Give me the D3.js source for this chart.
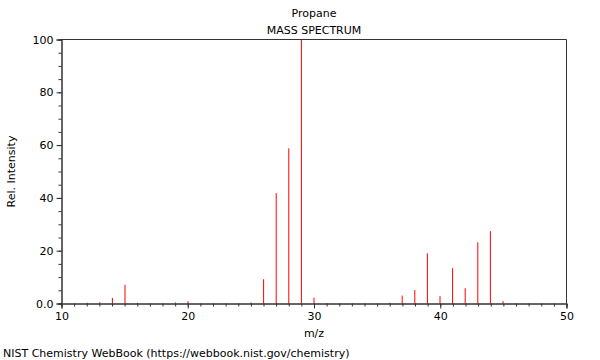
<!DOCTYPE html>
<html><head><meta charset="utf-8">
<script src="https://cdn.jsdelivr.net/npm/d3@7"></script>
<style>body{margin:0;background:#fff}svg{display:block}text{font-family:"DejaVu Sans",sans-serif}</style>
</head><body>
<svg id="c" width="600" height="360"></svg>
<script>
const mz =        [12, 13, 14, 15, 16, 19, 20, 25, 26, 27, 28, 29, 30, 31, 36, 37, 38, 39, 40, 41, 42, 43, 44, 45];
const intensity = [0.3,0.5,2.1,7.1,0.3,0.4,0.9,0.4,9.2,41.8,58.8,100,2.2,0.1,0.3,3.0,5.1,19.0,2.8,13.4,5.8,23.2,27.4,0.9];
const xMajor = [10, 20, 30, 40, 50];
const yMajor = [0, 20, 40, 60, 80, 100];
const yMajorLabels = ["0.0", "20", "40", "60", "80", "100"];
const title = "Propane", subtitle = "MASS SPECTRUM";
const xTitle = "m/z", yTitle = "Rel. Intensity";
const footer = "NIST Chemistry WebBook (https://webbook.nist.gov/chemistry)";

const svg = d3.select("#c");
const L = 61.5, R = 566.5, T = 39.5, B = 303.5;
const x = d3.scaleLinear().domain([10, 50]).range([L, R]);
const xp = d3.scaleLinear().domain([10, 50]).range([62, 566]);
const y = d3.scaleLinear().domain([0, 100]).range([B, T]);
const axisColor = "#333";

// peaks
svg.append("g").selectAll("line").data(mz).join("line")
  .attr("x1", d => xp(d)).attr("x2", d => xp(d))
  .attr("y1", y(0)).attr("y2", (d, i) => y(intensity[i]))
  .attr("stroke", "#ff0000").attr("stroke-width", 1);

// frame top/right
svg.append("path").attr("d", `M${L},${T}H${R}V${B}`).attr("fill", "none").attr("stroke", axisColor);

// x axis minor
const xg = svg.append("g").attr("transform", `translate(0,${B})`);
xg.call(d3.axisBottom(x).tickValues(d3.range(10, 51, 1)).tickSize(3).tickFormat(""))
const xg2 = svg.append("g").attr("transform", `translate(0,${B})`);
xg2.call(d3.axisBottom(x).tickValues(xMajor).tickSize(5).tickPadding(4).tickFormat(d3.format("d")));
[xg, xg2].forEach(g => {
  g.selectAll("path,line").attr("stroke", axisColor);
  g.selectAll("text").attr("font-size", 11).attr("fill", "#000").attr("font-family", "DejaVu Sans");
});

// y axis
const yg = svg.append("g").attr("transform", `translate(${L},0)`);
yg.call(d3.axisLeft(y).tickValues(d3.range(0, 101, 5)).tickSize(3).tickFormat(""));
const yg2 = svg.append("g").attr("transform", `translate(${L},0)`);
yg2.call(d3.axisLeft(y).tickValues(yMajor).tickSize(5).tickPadding(3).tickFormat((d, i) => yMajorLabels[i]));
[yg, yg2].forEach(g => {
  g.selectAll("path,line").attr("stroke", axisColor);
  g.selectAll("text").attr("font-size", 11).attr("fill", "#000").attr("font-family", "DejaVu Sans");
});

// texts
svg.append("text").attr("x", 314).attr("y", 17).attr("text-anchor", "middle").attr("font-size", 11).text(title);
svg.append("text").attr("x", 314).attr("y", 34).attr("text-anchor", "middle").attr("font-size", 11).text(subtitle);
svg.append("text").attr("x", 314).attr("y", 337).attr("text-anchor", "middle").attr("font-size", 11).text(xTitle);
svg.append("text").attr("transform", `translate(15,${(T + B) / 2}) rotate(-90)`).attr("text-anchor", "middle").attr("font-size", 11).text(yTitle);
svg.append("text").attr("x", 3).attr("y", 357).attr("font-size", 11).text(footer);
</script>
</body></html>
